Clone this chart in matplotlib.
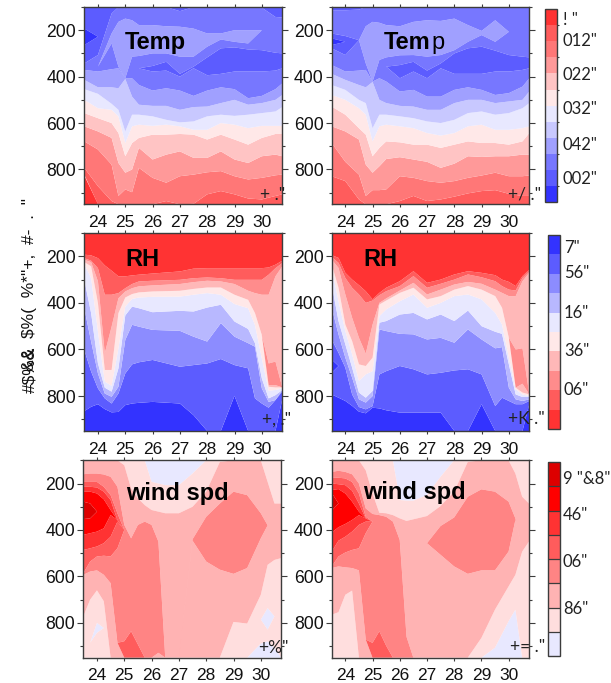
import numpy as np
import matplotlib
matplotlib.use("Agg")
import matplotlib.pyplot as plt
from matplotlib.ticker import MultipleLocator

_ = None

# band colours, numbered from 1
temp_colors = ['#ff3333', '#ff5c5c', '#ff7777', '#ff9999', '#ffc4c4', '#ffe8e8',
               '#e8e8ff', '#c8c8ff', '#a0a0ff', '#7777ff', '#5c5cff', '#3333ff']
rh_colors = ['#3333ff', '#5c5cff', '#8c8cff', '#b8b8ff', '#e8e8ff',
             '#ffe8e8', '#ffb8b8', '#ff8c8c', '#ff5c5c', '#ff3333']
wind_colors = ['#e8e8ff', '#ffdede', '#ffb3b3', '#ff8484', '#ff5c5c', '#ff3333', '#ff0000', '#dd0000']

temp_days = [23.5, 24, 24.5, 24.75, 25, 25.25, 25.5, 26, 26.5, 27, 27.5, 28, 28.5, 29, 29.5, 30, 30.5, 30.75]

# Each profile: bands met going down a column; each edge row: pressure where one band gives way
# to the next, per day. None = that band is absent, edge sits on the next one below.
temp_left_bands = [11, 12, 11, 10, 9, 10, 11, 10, 9, 8, 7, 6, 5, 4, 3, 2, 1]
temp_left_edges = [
    [193, 228],
    [264, 228],
    [343, 307, 128, 100, 100, 100, 100, 100, 100, 118, 100, 100, 100, 100, 100, 103, 143, 145],
    [371, 357, 214, 164, 150, 157, 178, 178, 183, 185, 193, 214, 214, 200, 200, 200, _, _],
    [371, 357, 257, 357, 407, 314, 311, 300, 300, 314, 314, 271, 240, 250, 257, 200, _, _],
    [_, _, _, _, _, _, 364, 354, 336, 388, 357, 317, 278, 274, 283, 286, 297, 300],
    [_, _, _, _, _, _, 364, 378, 374, 400, 364, 394, 388, 378, 378, 378, 374, 364],
    [371, 378, 368, 364, 407, 407, 436, 460, 450, 460, 483, 460, 446, 454, 493, 483, 454, 429],
    [414, 446, 446, 450, 410, 486, 521, 526, 526, 543, 531, 529, 514, 500, 521, 514, 500, 479],
    [454, 474, 517, 543, 636, 564, 564, 571, 586, 597, 593, 571, 564, 569, 564, 557, 550, 531],
    [500, 536, 543, 571, 686, 614, 607, 612, 607, 614, 629, 629, 600, 607, 622, 612, 612, 612],
    [557, 579, 600, 643, 743, 686, 664, 650, 650, 647, 650, 671, 650, 671, 693, 664, 647, 647],
    [614, 636, 664, 772, 814, 800, 707, 757, 736, 722, 750, 750, 722, 757, 772, 743, 736, 743],
    [679, 714, 779, 914, 886, 898, 793, 836, 857, 829, 822, 812, 807, 829, 843, 836, 825, 822],
    [793, 872, 936, 950, 950, 950, 950, 950, 936, 950, 948, 907, 893, 907, 925, 929, 914, 907],
    [822],
]

temp_right_bands = [11, 10, 9, 10, 11, 12, 11, 10, 9, 8, 7, 6, 5, 4, 3, 2]
temp_right_edges = [
    [114, 114, 111, 100, 100, 100, 100, 100, 100, 100, 100, 100, 100, 100, 100, 100, 100, 100],
    [214, 225, 243, 183, 164, 168, 178, 183, 164, 157, 160, 150, 178, 203, 157, 207, 207, 207],
    [214, 225, 243, 343, 421, 328, 317, 308, 307, 314, 307, 286, 250, 221, 250, 207, 207, 207],
    [214, 225, 243, 343, 421, 343, 357, 350, 336, 374, 343, 300, 278, 271, 288, 307, 314, 317],
    [235, 250],
    [264, 250],
    [278, 307, 243, 343, 421, 343, 357, 407, 378, 407, 364, 388, 388, 388, 378, 378, 371, 364],
    [350, 378, 374, 371, 421, 407, 421, 464, 457, 486, 486, 457, 446, 457, 479, 471, 443, 407],
    [388, 414, 436, 446, 423, 500, 514, 526, 529, 543, 543, 514, 500, 500, 514, 507, 500, 464],
    [436, 457, 500, 514, 622, 564, 564, 571, 579, 593, 600, 586, 557, 550, 564, 557, 536, 514],
    [479, 500, 536, 564, 679, 614, 607, 614, 622, 643, 654, 643, 614, 607, 629, 629, 622, 614],
    [529, 564, 622, 650, 743, 707, 679, 683, 693, 693, 707, 693, 679, 686, 686, 693, 679, 643],
    [614, 636, 671, 779, 814, 786, 755, 747, 757, 767, 793, 775, 743, 746, 743, 743, 736, 736],
    [686, 767, 822, 914, 889, 889, 886, 829, 836, 850, 857, 850, 836, 826, 814, 829, 829, 826],
    [829, 850, 929, 950, 950, 950, 950, 936, 914, 936, 929, 917, 903, 893, 889, 905, 914, 914],
]

rh_left_days = [23.5, 23.75, 24, 24.25, 24.5, 24.75, 25, 25.25, 25.5, 26, 27, 27.5, 28, 28.5,
                29, 29.5, 29.75, 30, 30.25, 30.5, 30.75]
rh_left_bands = [10, 9, 8, 7, 8, 7, 6, 5, 4, 3, 2, 1]
rh_left_edges = [
    [193, 196, 208, 239, 262, 286, 286, 282, 279, 274, 265, 253, 251, 251, 251, 251, 251, 251, 248, 236, 219],
    [208, 219, 251, 365, 365, 358, 337, 319, 308, 305, 301, 294, 291, 294, 301, 301, 301, 301, 279, 251, 229],
    [215, 225, 308, 616, 502, 380, 351, 337, 329, 325, 319, 311, 305, 308, 319, 348, 358, 365, 365, 286, 243],
    [_, _, _, _, _, _, _, _, _, _, _, _, _, _, _, _, _, _, 660, 652, _],
    [_, _, _, _, _, _, _, _, _, _, _, _, _, _, _, _, _, _, 753, 753, _],
    [225, 243, 401, 688, 688, 444, 377, 362, 355, 351, 348, 340, 334, 334, 365, 387, 444, 538, 760, 763, 763],
    [233, 294, 523, 738, 756, 595, 416, 383, 377, 374, 373, 365, 358, 365, 405, 423, 495, 638, 777, 774, 767],
    [301, 444, 660, 764, 781, 681, 454, 416, 423, 440, 434, 437, 420, 408, 480, 512, 573, 724, 810, 796, 774],
    [423, 566, 703, 789, 803, 760, 559, 494, 502, 516, 520, 545, 566, 487, 545, 573, 588, 767, 825, 817, 774],
    [602, 695, 767, 810, 832, 789, 703, 664, 655, 645, 674, 667, 660, 641, 667, 681, 810, 832, 850, 817, 780],
    [865, 846, 835, 856, 870, 868, 839, 832, 829, 825, 832, 882, 950, 950, 799, 950, 950, 950, 950, 950, 813],
]

rh_right_days = [23.5, 23.75, 24, 24.25, 24.5, 24.75, 25, 25.25, 25.5, 26, 26.5, 27, 27.5, 28, 28.5,
                 29, 29.5, 29.75, 30, 30.25, 30.5, 30.75]
rh_right_bands = [10, 9, 8, 7, 8, 7, 6, 5, 4, 3, 2, 1, 2, 1]
rh_right_edges = [
    [195, 207, 271, 300, 324, 350, 385, 357, 335, 307, 264, 314, 300, 278, 264, 271, 281, 300, 310, 328, 285, 257],
    [203, 228, 293, 335, 364, 400, 390, 367, 350, 328, 285, 335, 318, 300, 278, 290, 307, 328, 343, 347, 293, 264],
    [214, 250, 364, 464, 550, 618, 493, 400, 381, 347, 314, 364, 343, 321, 310, 318, 343, 357, 371, 371, 307, 271],
    [_, _, _, _, _, _, _, _, _, _, _, _, _, _, _, _, _, _, _, 600, 595, _],
    [_, _, _, _, _, _, _, _, _, _, _, _, _, _, _, _, _, _, _, 764, 747, _],
    [235, 335, 493, 564, 664, 671, 635, 407, 390, 357, 335, 385, 371, 343, 328, 343, 371, 421, 550, 750, 785, 793],
    [250, 393, 521, 621, 735, 707, 693, 457, 428, 393, 364, 421, 400, 371, 364, 385, 443, 493, 635, 771, 793, 800],
    [321, 478, 578, 678, 785, 807, 778, 485, 478, 450, 443, 471, 450, 478, 433, 500, 524, 533, 664, 793, 804, 804],
    [421, 535, 635, 721, 814, 828, 800, 514, 521, 533, 535, 557, 550, 571, 514, 557, 595, 590, 764, 814, 821, 814],
    [557, 614, 678, 793, 847, 857, 843, 707, 693, 671, 685, 707, 700, 690, 685, 707, 843, 807, 821, 835, 835, 821],
    [643, 671],
    [700, 671],
    [793, 807, 821, 842, 867, 874, 850, 853, 861, 871, 871, 871, 871, 950, 950, 835, 950, 950, 950, 950, 950, 835],
]

wind_days = [23.5, 23.75, 24, 24.25, 24.5, 24.75, 25, 25.25, 25.5, 25.75, 26, 26.25, 26.5, 27, 27.5,
             28, 28.5, 29, 29.5, 30, 30.25, 30.5, 30.75]
wind_left_bands = [1, 2, 3, 4, 5, 6, 7, 8, 7, 6, 5, 4, 5, 4, 3, 2, 1, 2, 1]
wind_left_edges = [
    [100, 100, 100, 100, 100, 100, 100, 100, 100, 100, 193, 200, 207, 207, 157, 100, 100, 100, 100, 100, 100, 100, 100],
    [100, 100, 100, 100, 100, 100, 121, 221, 264, 293, 314, 321, 328, 328, 300, 235, 107, 100, 100, 100, 193, 286, 286],
    [160, 157, 157, 161, 171, 214, 378, 436, 378, 364, 378, 450, _, _, 440, 343, 286, 235, 250, 328, 380, _, _],
    [193, 193, 193, 214, 250, 328, 400],
    [214, 214, 217, 235, 271, 357, 400],
    [235, 235, 243, 268, 314, 357, 400],
    [278, 286, 321, 321, 321, 357, 400],
    [353, 350, 321, 321, 321, 357, 400],
    [421, 414, 407, 393, 336, 357, 400],
    [486, 479, 471, 457, 429, 364, 400],
    [586, 536, 514, 511, 514, 479, 400],
    [_, _, _, _, _, _, 879, 836, 893],
    [_, _, _, _, _, _, 950, 950, 950],
    [593, 579, 574, 593, 629, 886, 950, 950, 950, 950, 950, 929, _, _, 446, 536, 571, 589, 564, 436, 380, _, _],
    [772, 700, 660, 707, 950, 950, 950, 950, 950, 950, 950, 950, 950, 950, 950, 950, 950, 796, 803, 679, 550, 529, 521],
    [_, 886, 800, 822, _, _, _, _, _, _, _, _, _, _, _, _, _, _, _, 786, 736, 772, _],
    [_, 886, 843, 822, _, _, _, _, _, _, _, _, _, _, _, _, _, _, _, 786, 829, 772, _],
    [_, _, _, _, _, _, _, _, _, _, _, _, _, _, _, _, _, _, _, 889, 879, 907, _],
]

wind_right_bands = [1, 2, 3, 4, 5, 6, 7, 8, 7, 6, 5, 4, 5, 4, 3, 2, 1]
wind_right_edges = [
    [100, 100, 100, 100, 100, 100, 100, 100, 100, 100, 271, 274, 274, 250, 171, 100, 100, 100, 100, 100, 100, 100, 100],
    [100, 100, 100, 100, 100, 143, 243, 326, 328, 336, 350, 361, 354, 340, 297, 235, 107, 100, 100, 100, 157, 257, 286],
    [150, 145, 150, 160, 200, 307, 331, 336, 343, 364, 443, 860, _, 457, 383, 346, 257, 225, 235, 278, 350, _, _],
    [174, 175, 178, 193, 243, 343, 364],
    [200, 203, 207, 231, 286, 350, 364],
    [228, 224, 243, 278, 321, 350, 364],
    [240, 286, 314, 321, 328, 350, 364],
    [317, 286, 314, 321, 328, 350, 364],
    [411, 388, 374, 357, 336, 350, 364],
    [493, 446, 429, 407, 378, 364, 364],
    [557, 514, 497, 486, 479, 414, 364],
    [_, _, _, _, _, _, 886, 836, 898],
    [_, _, _, _, _, _, 950, 950, 950],
    [564, 557, 561, 564, 574, 872, 950, 950, 950, 950, 950, 950, _, 457, 507, 557, 589, 574, 574, 493, 357, _, _],
    [765, 754, 679, 661, 950, 950, 950, 950, 950, 950, 950, 950, 950, 950, 950, 950, 950, 865, 743, 643, 593, 493, 450],
    [_, _, _, _, _, _, _, _, _, _, _, _, _, _, _, _, _, _, 907, 793, 743, _, _],
]

x_ticks = [24, 25, 26, 27, 28, 29, 30]
y_ticks = [200, 400, 600, 800]

temp_cbar_labels = ['! "', '012"', '022"', '032"', '042"', '002"']
rh_cbar_labels = ['7"', '56"', '16"', '36"', '06"']
wind_cbar_labels = ['9 "&8"', '46"', '06"', '86"']

W, H = 611, 683
plt.rcParams['font.family'] = ['Liberation Sans', 'DejaVu Sans']
fig = plt.figure(figsize=(W / 100, H / 100), dpi=100, facecolor='white')
EDGE = '#3c3c3c'


def make_axes(x0, x1, y0, y1):
    return fig.add_axes([x0 / W, 1 - y1 / H, (x1 - x0) / W, (y1 - y0) / H])


def fig_text(px, py, s, **kw):
    kw.setdefault('va', 'baseline')
    return fig.text(px / W, 1 - py / H, s, **kw)


def column_grid(days, bands, edges):
    n = len(days)
    rows = [list(r) + [None] * (n - len(r)) for r in edges] + [[950] * n]
    rows = np.array(rows, dtype=float)
    for i in range(len(rows) - 2, -1, -1):
        gap = np.isnan(rows[i])
        rows[i, gap] = rows[i + 1, gap]
    rows = np.maximum.accumulate(rows[:-1], axis=0)
    P = np.vstack([np.full(n, 100.0)] + [np.vstack([r, r]) for r in rows] + [np.full(n, 950.0)])
    Z = np.repeat(np.array(bands, dtype=float), 2)
    Z = np.tile(Z[:, None], (1, n))
    X = np.tile(np.array(days)[None, :], (P.shape[0], 1))
    return X, P, Z


def panel(box, days, bands, edges, colors):
    ax = make_axes(*box)
    X, P, Z = column_grid(days, bands, edges)
    levels = np.arange(0.5, len(colors) + 1)
    cf = ax.contourf(X, P, Z, levels=levels, colors=colors, antialiased=True)
    ax.set_xlim(23.5, 30.75)
    ax.set_ylim(950, 100)
    ax.set_xticks(x_ticks)
    ax.set_yticks(y_ticks)
    ax.yaxis.set_minor_locator(MultipleLocator(100))
    ax.tick_params(axis='x', which='major', top=True, bottom=True, direction='out',
                   length=2.2, width=0.8, color=EDGE, labelsize=12.5, pad=5.5, labelcolor='#111111')
    ax.tick_params(axis='y', which='major', left=True, right=True, direction='out',
                   length=4.6, width=0.8, color=EDGE, labelsize=12.7, pad=1.2, labelcolor='#111111')
    ax.tick_params(axis='y', which='minor', left=True, right=True, direction='out',
                   length=2.2, width=0.8, color=EDGE)
    for s in ax.spines.values():
        s.set_color(EDGE)
        s.set_linewidth(1.0)
    return cf


def cbar(cf, box, positions, labels, pad, invert, minor):
    cax = make_axes(*box)
    cb = fig.colorbar(cf, cax=cax, drawedges=True)
    cb.dividers.set_color(EDGE)
    cb.dividers.set_linewidth(0.9)
    cb.outline.set_edgecolor(EDGE)
    cb.outline.set_linewidth(1.0)
    if invert:
        cax.invert_yaxis()
    cax.set_yticks(positions)
    cax.set_yticklabels(labels, family=['Lato', 'DejaVu Sans'], fontsize=12, color='#222222')
    cax.tick_params(axis='y', which='major', length=0, pad=pad)
    cax.set_yticks(minor, minor=True)
    cax.tick_params(axis='y', which='minor', length=1.4, width=0.8, color=EDGE)
    return cb


cf_tl = panel((84.3, 282.3, 7, 204.3), temp_days, temp_left_bands, temp_left_edges, temp_colors)
cf_tr = panel((331.7, 529.3, 7, 204.3), temp_days, temp_right_bands, temp_right_edges, temp_colors)
cf_rl = panel((84.3, 282.3, 233, 431), rh_left_days, rh_left_bands, rh_left_edges, rh_colors)
cf_rr = panel((331.7, 529.3, 233, 431), rh_right_days, rh_right_bands, rh_right_edges, rh_colors)
cf_wl = panel((83.3, 281.3, 460.3, 657.7), wind_days, wind_left_bands, wind_left_edges, wind_colors)
cf_wr = panel((331.7, 529, 460.3, 657.7), wind_days, wind_right_bands, wind_right_edges, wind_colors)

cbar(cf_tr, (545.3, 557, 9, 202.3), [1.06, 2.42, 4.53, 6.64, 8.82, 10.93], temp_cbar_labels, 4.0, True,
     [1.5, 3.5, 5.5, 7.5, 9.5, 11.5])
cbar(cf_rr, (547.7, 559.7, 235, 429), [1.10, 2.39, 4.43, 6.39, 8.4], rh_cbar_labels, 3.0, True, [])
cbar(cf_wr, (547.7, 559.7, 462, 656), [7.88, 6.36, 4.43, 2.52], wind_cbar_labels, 2.2, False, [])

title_kw = dict(fontsize=17, fontweight='bold', color='black')
fig_text(125, 49, 'Temp', **title_kw)
fig_text(383.7, 49, 'Tem', **title_kw)
fig_text(431.5, 49, 'p', fontsize=17, color='black')
fig_text(125.7, 265.7, 'RH', **title_kw)
fig_text(363.3, 265.7, 'RH', **title_kw)
fig_text(125.7, 499.7, 'wind spd', **title_kw)
fig_text(363.3, 498.7, 'wind spd', **title_kw)

corner_kw = dict(family=['Lato', 'DejaVu Sans'], fontsize=12.5, color='#222222')
fig_text(260, 199.5, '+ ."', **corner_kw)
fig_text(508, 200, '+/ ."', **corner_kw)
fig_text(262, 425, '+, ."', **corner_kw)
fig_text(507.7, 424, '+K ."', **corner_kw)
fig_text(258, 653, '+%"', **corner_kw)
fig_text(510, 652, '+= ."', **corner_kw)

side_kw = dict(rotation=90, fontsize=12.5, color='#111111', ha='center', va='bottom')
fig_text(30, 393, '#$%&', **side_kw)
fig_text(30, 371, '&&  $%(  %*"+,  #-  .  "', **side_kw)

fig.savefig('out.png', dpi=100)
